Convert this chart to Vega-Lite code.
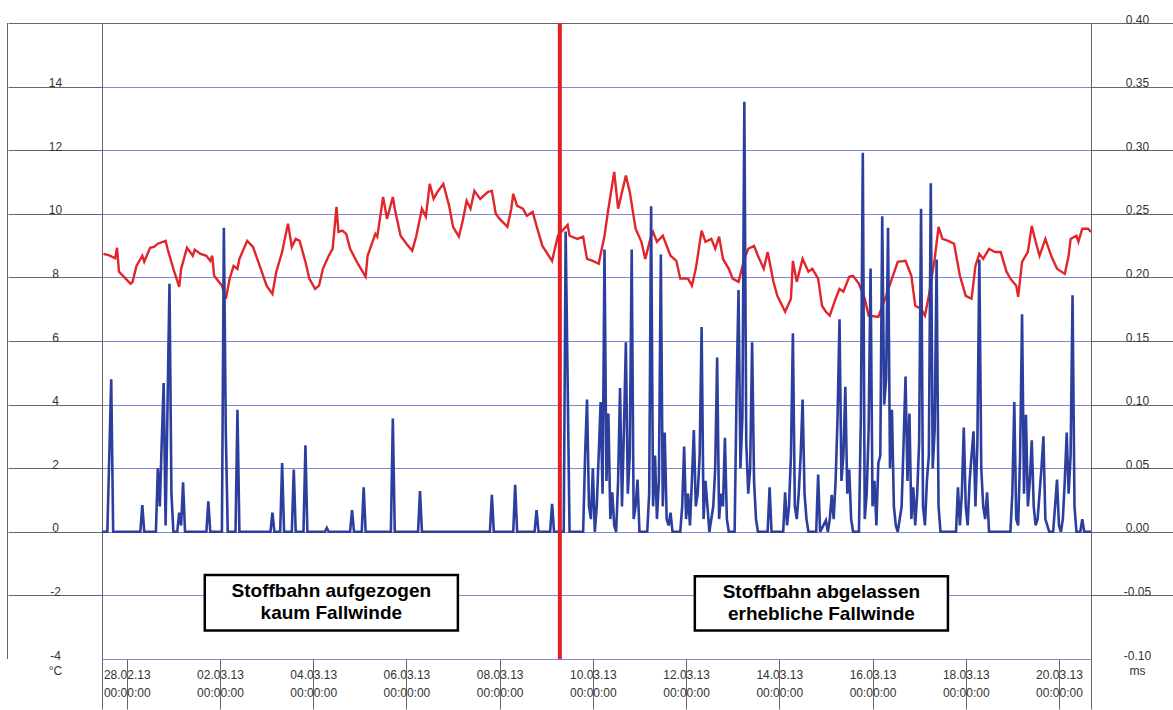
{
  "$schema": "https://vega.github.io/schema/vega-lite/v6.json",
  "width": 989,
  "height": 636,
  "autosize": "none",
  "padding": {"left": 102, "top": 23, "right": 82, "bottom": 51},
  "background": "white",
  "config": {
    "font": "Liberation Sans",
    "view": {"stroke": null},
    "axis": {"labelFont": "Liberation Sans", "titleFont": "Liberation Sans"}
  },
  "datasets": {
    "temperatur": [
      {"zeit": "2013-02-27T12:00Z", "temp": 8.74}, {"zeit": "2013-02-27T15:00Z", "temp": 8.69}, {"zeit": "2013-02-27T18:00Z", "temp": 8.6}, {"zeit": "2013-02-27T19:00Z", "temp": 8.93}, {"zeit": "2013-02-27T20:00Z", "temp": 8.18},
      {"zeit": "2013-02-28T02:00Z", "temp": 7.8}, {"zeit": "2013-02-28T03:00Z", "temp": 7.86}, {"zeit": "2013-02-28T05:00Z", "temp": 8.36}, {"zeit": "2013-02-28T08:00Z", "temp": 8.68}, {"zeit": "2013-02-28T09:00Z", "temp": 8.49}, {"zeit": "2013-02-28T12:00Z", "temp": 8.93}, {"zeit": "2013-02-28T14:00Z", "temp": 8.96}, {"zeit": "2013-02-28T16:00Z", "temp": 9.06}, {"zeit": "2013-02-28T20:00Z", "temp": 9.15}, {"zeit": "2013-02-28T21:00Z", "temp": 8.9},
      {"zeit": "2013-03-01T00:00Z", "temp": 8.27}, {"zeit": "2013-03-01T03:00Z", "temp": 7.7}, {"zeit": "2013-03-01T04:00Z", "temp": 8.27}, {"zeit": "2013-03-01T07:00Z", "temp": 8.93}, {"zeit": "2013-03-01T10:00Z", "temp": 8.68}, {"zeit": "2013-03-01T11:00Z", "temp": 8.87}, {"zeit": "2013-03-01T14:00Z", "temp": 8.74}, {"zeit": "2013-03-01T17:00Z", "temp": 8.68}, {"zeit": "2013-03-01T19:00Z", "temp": 8.52}, {"zeit": "2013-03-01T20:00Z", "temp": 8.68}, {"zeit": "2013-03-01T21:00Z", "temp": 8.05},
      {"zeit": "2013-03-02T01:00Z", "temp": 7.74}, {"zeit": "2013-03-02T03:00Z", "temp": 7.33}, {"zeit": "2013-03-02T05:00Z", "temp": 7.96}, {"zeit": "2013-03-02T07:00Z", "temp": 8.36}, {"zeit": "2013-03-02T09:00Z", "temp": 8.27}, {"zeit": "2013-03-02T10:00Z", "temp": 8.58}, {"zeit": "2013-03-02T14:00Z", "temp": 9.15}, {"zeit": "2013-03-02T17:00Z", "temp": 8.96}, {"zeit": "2013-03-02T21:00Z", "temp": 8.27},
      {"zeit": "2013-03-03T00:00Z", "temp": 7.74}, {"zeit": "2013-03-03T03:00Z", "temp": 7.48}, {"zeit": "2013-03-03T05:00Z", "temp": 8.18}, {"zeit": "2013-03-03T08:00Z", "temp": 8.8}, {"zeit": "2013-03-03T11:00Z", "temp": 9.69}, {"zeit": "2013-03-03T13:00Z", "temp": 8.96}, {"zeit": "2013-03-03T15:00Z", "temp": 9.21}, {"zeit": "2013-03-03T17:00Z", "temp": 9.15}, {"zeit": "2013-03-03T20:00Z", "temp": 8.49}, {"zeit": "2013-03-03T22:00Z", "temp": 7.96},
      {"zeit": "2013-03-04T01:00Z", "temp": 7.64}, {"zeit": "2013-03-04T03:00Z", "temp": 7.74}, {"zeit": "2013-03-04T05:00Z", "temp": 8.27}, {"zeit": "2013-03-04T08:00Z", "temp": 8.68}, {"zeit": "2013-03-04T10:00Z", "temp": 8.9}, {"zeit": "2013-03-04T12:00Z", "temp": 10.22}, {"zeit": "2013-03-04T13:00Z", "temp": 9.43}, {"zeit": "2013-03-04T15:00Z", "temp": 9.47}, {"zeit": "2013-03-04T17:00Z", "temp": 9.37}, {"zeit": "2013-03-04T19:00Z", "temp": 8.9}, {"zeit": "2013-03-04T23:00Z", "temp": 8.43},
      {"zeit": "2013-03-05T03:00Z", "temp": 8.02}, {"zeit": "2013-03-05T04:00Z", "temp": 8.68}, {"zeit": "2013-03-05T08:00Z", "temp": 9.37}, {"zeit": "2013-03-05T09:00Z", "temp": 9.28}, {"zeit": "2013-03-05T12:00Z", "temp": 10.53}, {"zeit": "2013-03-05T14:00Z", "temp": 9.84}, {"zeit": "2013-03-05T17:00Z", "temp": 10.53}, {"zeit": "2013-03-05T18:00Z", "temp": 10.16}, {"zeit": "2013-03-05T21:00Z", "temp": 9.31},
      {"zeit": "2013-03-06T00:00Z", "temp": 9.06}, {"zeit": "2013-03-06T03:00Z", "temp": 8.84}, {"zeit": "2013-03-06T05:00Z", "temp": 9.28}, {"zeit": "2013-03-06T08:00Z", "temp": 10.16}, {"zeit": "2013-03-06T10:00Z", "temp": 9.91}, {"zeit": "2013-03-06T12:00Z", "temp": 10.94}, {"zeit": "2013-03-06T14:00Z", "temp": 10.47}, {"zeit": "2013-03-06T16:00Z", "temp": 10.69}, {"zeit": "2013-03-06T19:00Z", "temp": 10.94}, {"zeit": "2013-03-06T22:00Z", "temp": 10.25},
      {"zeit": "2013-03-07T00:00Z", "temp": 9.59}, {"zeit": "2013-03-07T03:00Z", "temp": 9.28}, {"zeit": "2013-03-07T05:00Z", "temp": 9.78}, {"zeit": "2013-03-07T07:00Z", "temp": 10.41}, {"zeit": "2013-03-07T09:00Z", "temp": 10.16}, {"zeit": "2013-03-07T11:00Z", "temp": 10.72}, {"zeit": "2013-03-07T14:00Z", "temp": 10.47}, {"zeit": "2013-03-07T18:00Z", "temp": 10.69}, {"zeit": "2013-03-07T20:00Z", "temp": 10.72}, {"zeit": "2013-03-07T22:00Z", "temp": 10.0},
      {"zeit": "2013-03-08T00:00Z", "temp": 9.84}, {"zeit": "2013-03-08T04:00Z", "temp": 9.59}, {"zeit": "2013-03-08T06:00Z", "temp": 10.16}, {"zeit": "2013-03-08T07:00Z", "temp": 10.63}, {"zeit": "2013-03-08T09:00Z", "temp": 10.25}, {"zeit": "2013-03-08T12:00Z", "temp": 10.16}, {"zeit": "2013-03-08T14:00Z", "temp": 9.94}, {"zeit": "2013-03-08T17:00Z", "temp": 10.06}, {"zeit": "2013-03-08T19:00Z", "temp": 9.62}, {"zeit": "2013-03-08T22:00Z", "temp": 8.99},
      {"zeit": "2013-03-09T03:00Z", "temp": 8.52}, {"zeit": "2013-03-09T06:00Z", "temp": 9.31}, {"zeit": "2013-03-09T08:00Z", "temp": 9.45}, {"zeit": "2013-03-09T11:00Z", "temp": 9.65}, {"zeit": "2013-03-09T12:00Z", "temp": 9.31}, {"zeit": "2013-03-09T16:00Z", "temp": 9.21}, {"zeit": "2013-03-09T19:00Z", "temp": 9.28}, {"zeit": "2013-03-09T21:00Z", "temp": 8.58},
      {"zeit": "2013-03-10T00:00Z", "temp": 8.52}, {"zeit": "2013-03-10T03:00Z", "temp": 8.43}, {"zeit": "2013-03-10T06:00Z", "temp": 9.31}, {"zeit": "2013-03-10T08:00Z", "temp": 10.16}, {"zeit": "2013-03-10T11:00Z", "temp": 11.32}, {"zeit": "2013-03-10T13:00Z", "temp": 10.16}, {"zeit": "2013-03-10T17:00Z", "temp": 11.2}, {"zeit": "2013-03-10T19:00Z", "temp": 10.69}, {"zeit": "2013-03-10T22:00Z", "temp": 9.53},
      {"zeit": "2013-03-11T01:00Z", "temp": 9.12}, {"zeit": "2013-03-11T03:00Z", "temp": 8.58}, {"zeit": "2013-03-11T06:00Z", "temp": 9.31}, {"zeit": "2013-03-11T07:00Z", "temp": 9.43}, {"zeit": "2013-03-11T09:00Z", "temp": 9.12}, {"zeit": "2013-03-11T12:00Z", "temp": 9.31}, {"zeit": "2013-03-11T16:00Z", "temp": 8.68}, {"zeit": "2013-03-11T19:00Z", "temp": 8.52}, {"zeit": "2013-03-11T21:00Z", "temp": 7.96},
      {"zeit": "2013-03-12T01:00Z", "temp": 7.96}, {"zeit": "2013-03-12T03:00Z", "temp": 7.74}, {"zeit": "2013-03-12T05:00Z", "temp": 8.27}, {"zeit": "2013-03-12T08:00Z", "temp": 9.47}, {"zeit": "2013-03-12T10:00Z", "temp": 9.12}, {"zeit": "2013-03-12T13:00Z", "temp": 9.21}, {"zeit": "2013-03-12T15:00Z", "temp": 8.9}, {"zeit": "2013-03-12T17:00Z", "temp": 9.28}, {"zeit": "2013-03-12T19:00Z", "temp": 8.58}, {"zeit": "2013-03-12T22:00Z", "temp": 8.27},
      {"zeit": "2013-03-13T00:00Z", "temp": 7.96}, {"zeit": "2013-03-13T03:00Z", "temp": 7.86}, {"zeit": "2013-03-13T06:00Z", "temp": 8.58}, {"zeit": "2013-03-13T08:00Z", "temp": 8.9}, {"zeit": "2013-03-13T11:00Z", "temp": 8.99}, {"zeit": "2013-03-13T13:00Z", "temp": 8.68}, {"zeit": "2013-03-13T16:00Z", "temp": 8.27}, {"zeit": "2013-03-13T18:00Z", "temp": 8.8}, {"zeit": "2013-03-13T21:00Z", "temp": 7.86}, {"zeit": "2013-03-13T23:00Z", "temp": 7.42},
      {"zeit": "2013-03-14T03:00Z", "temp": 6.92}, {"zeit": "2013-03-14T06:00Z", "temp": 7.33}, {"zeit": "2013-03-14T07:00Z", "temp": 8.52}, {"zeit": "2013-03-14T09:00Z", "temp": 7.86}, {"zeit": "2013-03-14T12:00Z", "temp": 8.58}, {"zeit": "2013-03-14T15:00Z", "temp": 8.18}, {"zeit": "2013-03-14T17:00Z", "temp": 8.27}, {"zeit": "2013-03-14T20:00Z", "temp": 7.96}, {"zeit": "2013-03-14T22:00Z", "temp": 7.11},
      {"zeit": "2013-03-15T00:00Z", "temp": 6.92}, {"zeit": "2013-03-15T02:00Z", "temp": 6.8}, {"zeit": "2013-03-15T05:00Z", "temp": 7.33}, {"zeit": "2013-03-15T07:00Z", "temp": 7.64}, {"zeit": "2013-03-15T09:00Z", "temp": 7.55}, {"zeit": "2013-03-15T12:00Z", "temp": 8.02}, {"zeit": "2013-03-15T14:00Z", "temp": 8.05}, {"zeit": "2013-03-15T17:00Z", "temp": 7.8}, {"zeit": "2013-03-15T20:00Z", "temp": 7.33}, {"zeit": "2013-03-15T22:00Z", "temp": 6.8},
      {"zeit": "2013-03-16T03:00Z", "temp": 6.76}, {"zeit": "2013-03-16T07:00Z", "temp": 7.42}, {"zeit": "2013-03-16T10:00Z", "temp": 7.96}, {"zeit": "2013-03-16T13:00Z", "temp": 8.49}, {"zeit": "2013-03-16T17:00Z", "temp": 8.52}, {"zeit": "2013-03-16T20:00Z", "temp": 8.05}, {"zeit": "2013-03-16T22:00Z", "temp": 7.11},
      {"zeit": "2013-03-17T01:00Z", "temp": 7.01}, {"zeit": "2013-03-17T03:00Z", "temp": 6.8}, {"zeit": "2013-03-17T05:00Z", "temp": 7.42}, {"zeit": "2013-03-17T08:00Z", "temp": 8.58}, {"zeit": "2013-03-17T10:00Z", "temp": 9.59}, {"zeit": "2013-03-17T12:00Z", "temp": 9.21}, {"zeit": "2013-03-17T15:00Z", "temp": 9.15}, {"zeit": "2013-03-17T18:00Z", "temp": 9.06}, {"zeit": "2013-03-17T21:00Z", "temp": 8.05},
      {"zeit": "2013-03-18T00:00Z", "temp": 7.42}, {"zeit": "2013-03-18T03:00Z", "temp": 7.33}, {"zeit": "2013-03-18T05:00Z", "temp": 8.36}, {"zeit": "2013-03-18T07:00Z", "temp": 8.74}, {"zeit": "2013-03-18T09:00Z", "temp": 8.58}, {"zeit": "2013-03-18T12:00Z", "temp": 8.9}, {"zeit": "2013-03-18T15:00Z", "temp": 8.8}, {"zeit": "2013-03-18T18:00Z", "temp": 8.8}, {"zeit": "2013-03-18T21:00Z", "temp": 8.18}, {"zeit": "2013-03-18T23:00Z", "temp": 7.96},
      {"zeit": "2013-03-19T02:00Z", "temp": 7.74}, {"zeit": "2013-03-19T03:00Z", "temp": 7.39}, {"zeit": "2013-03-19T05:00Z", "temp": 8.49}, {"zeit": "2013-03-19T08:00Z", "temp": 8.8}, {"zeit": "2013-03-19T10:00Z", "temp": 9.62}, {"zeit": "2013-03-19T12:00Z", "temp": 9.12}, {"zeit": "2013-03-19T14:00Z", "temp": 8.68}, {"zeit": "2013-03-19T17:00Z", "temp": 9.21}, {"zeit": "2013-03-19T20:00Z", "temp": 8.68}, {"zeit": "2013-03-19T23:00Z", "temp": 8.27},
      {"zeit": "2013-03-20T03:00Z", "temp": 8.11}, {"zeit": "2013-03-20T05:00Z", "temp": 8.68}, {"zeit": "2013-03-20T06:00Z", "temp": 9.21}, {"zeit": "2013-03-20T09:00Z", "temp": 9.31}, {"zeit": "2013-03-20T10:00Z", "temp": 9.12}, {"zeit": "2013-03-20T12:00Z", "temp": 9.53}, {"zeit": "2013-03-20T15:00Z", "temp": 9.53}, {"zeit": "2013-03-20T16:30Z", "temp": 9.43}
    ],
    "wind": [
      {"zeit": "2013-02-27T11:15Z", "wind": 0}, {"zeit": "2013-02-27T14:00Z", "wind": 0}, {"zeit": "2013-02-27T15:00Z", "wind": 0.06}, {"zeit": "2013-02-27T16:00Z", "wind": 0.12}, {"zeit": "2013-02-27T17:00Z", "wind": 0},
      {"zeit": "2013-02-28T07:00Z", "wind": 0}, {"zeit": "2013-02-28T08:00Z", "wind": 0.021}, {"zeit": "2013-02-28T09:00Z", "wind": 0},
      {"zeit": "2013-02-28T15:00Z", "wind": 0}, {"zeit": "2013-02-28T16:00Z", "wind": 0.05}, {"zeit": "2013-02-28T17:00Z", "wind": 0.02}, {"zeit": "2013-02-28T18:00Z", "wind": 0.07}, {"zeit": "2013-02-28T19:00Z", "wind": 0.117}, {"zeit": "2013-02-28T20:00Z", "wind": 0.005}, {"zeit": "2013-02-28T21:00Z", "wind": 0.1}, {"zeit": "2013-02-28T22:00Z", "wind": 0.195}, {"zeit": "2013-02-28T23:00Z", "wind": 0.03},
      {"zeit": "2013-03-01T00:00Z", "wind": 0}, {"zeit": "2013-03-01T02:00Z", "wind": 0}, {"zeit": "2013-03-01T03:00Z", "wind": 0.015}, {"zeit": "2013-03-01T04:00Z", "wind": 0.005}, {"zeit": "2013-03-01T05:00Z", "wind": 0.039}, {"zeit": "2013-03-01T06:00Z", "wind": 0},
      {"zeit": "2013-03-01T17:00Z", "wind": 0}, {"zeit": "2013-03-01T18:00Z", "wind": 0.024}, {"zeit": "2013-03-01T19:00Z", "wind": 0},
      {"zeit": "2013-03-02T01:00Z", "wind": 0}, {"zeit": "2013-03-02T02:00Z", "wind": 0.239}, {"zeit": "2013-03-02T03:00Z", "wind": 0.078}, {"zeit": "2013-03-02T04:00Z", "wind": 0},
      {"zeit": "2013-03-02T08:00Z", "wind": 0}, {"zeit": "2013-03-02T09:00Z", "wind": 0.096}, {"zeit": "2013-03-02T10:00Z", "wind": 0},
      {"zeit": "2013-03-03T02:00Z", "wind": 0}, {"zeit": "2013-03-03T03:00Z", "wind": 0.015}, {"zeit": "2013-03-03T04:00Z", "wind": 0},
      {"zeit": "2013-03-03T07:00Z", "wind": 0}, {"zeit": "2013-03-03T08:00Z", "wind": 0.054}, {"zeit": "2013-03-03T09:00Z", "wind": 0},
      {"zeit": "2013-03-03T13:00Z", "wind": 0}, {"zeit": "2013-03-03T14:00Z", "wind": 0.049}, {"zeit": "2013-03-03T15:00Z", "wind": 0},
      {"zeit": "2013-03-03T19:00Z", "wind": 0}, {"zeit": "2013-03-03T20:00Z", "wind": 0.068}, {"zeit": "2013-03-03T21:00Z", "wind": 0},
      {"zeit": "2013-03-04T06:00Z", "wind": 0}, {"zeit": "2013-03-04T07:00Z", "wind": 0.003}, {"zeit": "2013-03-04T08:00Z", "wind": 0},
      {"zeit": "2013-03-04T19:00Z", "wind": 0}, {"zeit": "2013-03-04T20:00Z", "wind": 0.017}, {"zeit": "2013-03-04T21:00Z", "wind": 0},
      {"zeit": "2013-03-05T01:00Z", "wind": 0}, {"zeit": "2013-03-05T02:00Z", "wind": 0.035}, {"zeit": "2013-03-05T03:00Z", "wind": 0},
      {"zeit": "2013-03-05T16:00Z", "wind": 0}, {"zeit": "2013-03-05T17:00Z", "wind": 0.089}, {"zeit": "2013-03-05T18:00Z", "wind": 0},
      {"zeit": "2013-03-06T06:00Z", "wind": 0}, {"zeit": "2013-03-06T07:00Z", "wind": 0.032}, {"zeit": "2013-03-06T08:00Z", "wind": 0},
      {"zeit": "2013-03-07T19:00Z", "wind": 0}, {"zeit": "2013-03-07T20:00Z", "wind": 0.029}, {"zeit": "2013-03-07T21:00Z", "wind": 0},
      {"zeit": "2013-03-08T07:00Z", "wind": 0}, {"zeit": "2013-03-08T08:00Z", "wind": 0.037}, {"zeit": "2013-03-08T09:00Z", "wind": 0},
      {"zeit": "2013-03-08T18:00Z", "wind": 0}, {"zeit": "2013-03-08T19:00Z", "wind": 0.017}, {"zeit": "2013-03-08T20:00Z", "wind": 0},
      {"zeit": "2013-03-09T02:00Z", "wind": 0}, {"zeit": "2013-03-09T03:00Z", "wind": 0.022}, {"zeit": "2013-03-09T04:00Z", "wind": 0},
      {"zeit": "2013-03-09T09:00Z", "wind": 0}, {"zeit": "2013-03-09T10:00Z", "wind": 0.236}, {"zeit": "2013-03-09T11:00Z", "wind": 0.12}, {"zeit": "2013-03-09T12:00Z", "wind": 0},
      {"zeit": "2013-03-09T19:00Z", "wind": 0}, {"zeit": "2013-03-09T20:00Z", "wind": 0.06}, {"zeit": "2013-03-09T21:00Z", "wind": 0.104}, {"zeit": "2013-03-09T22:00Z", "wind": 0.02}, {"zeit": "2013-03-09T23:00Z", "wind": 0.01},
      {"zeit": "2013-03-10T00:00Z", "wind": 0.05}, {"zeit": "2013-03-10T01:00Z", "wind": 0}, {"zeit": "2013-03-10T02:00Z", "wind": 0.02}, {"zeit": "2013-03-10T03:00Z", "wind": 0.06}, {"zeit": "2013-03-10T04:00Z", "wind": 0.102}, {"zeit": "2013-03-10T05:00Z", "wind": 0.03}, {"zeit": "2013-03-10T06:00Z", "wind": 0.222}, {"zeit": "2013-03-10T07:00Z", "wind": 0.04}, {"zeit": "2013-03-10T08:00Z", "wind": 0.093}, {"zeit": "2013-03-10T09:00Z", "wind": 0.01}, {"zeit": "2013-03-10T10:00Z", "wind": 0.031}, {"zeit": "2013-03-10T11:00Z", "wind": 0.005}, {"zeit": "2013-03-10T12:00Z", "wind": 0}, {"zeit": "2013-03-10T13:00Z", "wind": 0.04}, {"zeit": "2013-03-10T14:00Z", "wind": 0.113}, {"zeit": "2013-03-10T15:00Z", "wind": 0.02}, {"zeit": "2013-03-10T16:00Z", "wind": 0.08}, {"zeit": "2013-03-10T17:00Z", "wind": 0.149}, {"zeit": "2013-03-10T18:00Z", "wind": 0.03}, {"zeit": "2013-03-10T19:00Z", "wind": 0.06}, {"zeit": "2013-03-10T20:00Z", "wind": 0.222}, {"zeit": "2013-03-10T21:00Z", "wind": 0.01}, {"zeit": "2013-03-10T22:00Z", "wind": 0.02}, {"zeit": "2013-03-10T23:00Z", "wind": 0.041},
      {"zeit": "2013-03-11T00:00Z", "wind": 0}, {"zeit": "2013-03-11T04:00Z", "wind": 0}, {"zeit": "2013-03-11T05:00Z", "wind": 0.03}, {"zeit": "2013-03-11T06:00Z", "wind": 0.256}, {"zeit": "2013-03-11T07:00Z", "wind": 0.02}, {"zeit": "2013-03-11T08:00Z", "wind": 0.06}, {"zeit": "2013-03-11T09:00Z", "wind": 0.01}, {"zeit": "2013-03-11T10:00Z", "wind": 0.04}, {"zeit": "2013-03-11T11:00Z", "wind": 0.218}, {"zeit": "2013-03-11T12:00Z", "wind": 0.02}, {"zeit": "2013-03-11T13:00Z", "wind": 0.078}, {"zeit": "2013-03-11T14:00Z", "wind": 0.01}, {"zeit": "2013-03-11T15:00Z", "wind": 0.005}, {"zeit": "2013-03-11T16:00Z", "wind": 0.015}, {"zeit": "2013-03-11T17:00Z", "wind": 0},
      {"zeit": "2013-03-11T21:00Z", "wind": 0}, {"zeit": "2013-03-11T22:00Z", "wind": 0.02}, {"zeit": "2013-03-11T23:00Z", "wind": 0.067},
      {"zeit": "2013-03-12T00:00Z", "wind": 0.01}, {"zeit": "2013-03-12T01:00Z", "wind": 0.03}, {"zeit": "2013-03-12T02:00Z", "wind": 0.005}, {"zeit": "2013-03-12T03:00Z", "wind": 0.04}, {"zeit": "2013-03-12T04:00Z", "wind": 0.08}, {"zeit": "2013-03-12T05:00Z", "wind": 0.02}, {"zeit": "2013-03-12T06:00Z", "wind": 0.03}, {"zeit": "2013-03-12T07:00Z", "wind": 0.06}, {"zeit": "2013-03-12T08:00Z", "wind": 0.161}, {"zeit": "2013-03-12T09:00Z", "wind": 0.01}, {"zeit": "2013-03-12T10:00Z", "wind": 0.04}, {"zeit": "2013-03-12T11:00Z", "wind": 0.02}, {"zeit": "2013-03-12T12:00Z", "wind": 0}, {"zeit": "2013-03-12T14:00Z", "wind": 0.02}, {"zeit": "2013-03-12T15:00Z", "wind": 0.05}, {"zeit": "2013-03-12T16:00Z", "wind": 0.137}, {"zeit": "2013-03-12T17:00Z", "wind": 0.01}, {"zeit": "2013-03-12T18:00Z", "wind": 0.03}, {"zeit": "2013-03-12T19:00Z", "wind": 0.02}, {"zeit": "2013-03-12T20:00Z", "wind": 0.074}, {"zeit": "2013-03-12T21:00Z", "wind": 0.01}, {"zeit": "2013-03-12T22:00Z", "wind": 0},
      {"zeit": "2013-03-13T01:00Z", "wind": 0}, {"zeit": "2013-03-13T02:00Z", "wind": 0.11}, {"zeit": "2013-03-13T03:00Z", "wind": 0.19}, {"zeit": "2013-03-13T04:00Z", "wind": 0.05}, {"zeit": "2013-03-13T05:00Z", "wind": 0.09}, {"zeit": "2013-03-13T06:00Z", "wind": 0.338}, {"zeit": "2013-03-13T07:00Z", "wind": 0.07}, {"zeit": "2013-03-13T08:00Z", "wind": 0.03}, {"zeit": "2013-03-13T09:00Z", "wind": 0.05}, {"zeit": "2013-03-13T10:00Z", "wind": 0.149}, {"zeit": "2013-03-13T11:00Z", "wind": 0.04}, {"zeit": "2013-03-13T12:00Z", "wind": 0.01}, {"zeit": "2013-03-13T13:00Z", "wind": 0},
      {"zeit": "2013-03-13T18:00Z", "wind": 0}, {"zeit": "2013-03-13T19:00Z", "wind": 0.035}, {"zeit": "2013-03-13T20:00Z", "wind": 0},
      {"zeit": "2013-03-14T02:00Z", "wind": 0}, {"zeit": "2013-03-14T03:00Z", "wind": 0.031}, {"zeit": "2013-03-14T04:00Z", "wind": 0.005}, {"zeit": "2013-03-14T05:00Z", "wind": 0.02}, {"zeit": "2013-03-14T06:00Z", "wind": 0.06}, {"zeit": "2013-03-14T07:00Z", "wind": 0.156}, {"zeit": "2013-03-14T08:00Z", "wind": 0.02}, {"zeit": "2013-03-14T09:00Z", "wind": 0.01}, {"zeit": "2013-03-14T10:00Z", "wind": 0.03}, {"zeit": "2013-03-14T11:00Z", "wind": 0.06}, {"zeit": "2013-03-14T12:00Z", "wind": 0.104}, {"zeit": "2013-03-14T13:00Z", "wind": 0.03}, {"zeit": "2013-03-14T14:00Z", "wind": 0.01}, {"zeit": "2013-03-14T15:00Z", "wind": 0},
      {"zeit": "2013-03-14T19:00Z", "wind": 0}, {"zeit": "2013-03-14T20:00Z", "wind": 0.045}, {"zeit": "2013-03-14T21:00Z", "wind": 0},
      {"zeit": "2013-03-15T00:00Z", "wind": 0.009}, {"zeit": "2013-03-15T01:00Z", "wind": 0}, {"zeit": "2013-03-15T02:00Z", "wind": 0.01}, {"zeit": "2013-03-15T03:00Z", "wind": 0.029}, {"zeit": "2013-03-15T04:00Z", "wind": 0.01}, {"zeit": "2013-03-15T05:00Z", "wind": 0.04}, {"zeit": "2013-03-15T06:00Z", "wind": 0.09}, {"zeit": "2013-03-15T07:00Z", "wind": 0.167}, {"zeit": "2013-03-15T08:00Z", "wind": 0.04}, {"zeit": "2013-03-15T09:00Z", "wind": 0.06}, {"zeit": "2013-03-15T10:00Z", "wind": 0.114}, {"zeit": "2013-03-15T11:00Z", "wind": 0.03}, {"zeit": "2013-03-15T12:00Z", "wind": 0.049}, {"zeit": "2013-03-15T13:00Z", "wind": 0.01}, {"zeit": "2013-03-15T14:00Z", "wind": 0},
      {"zeit": "2013-03-15T17:00Z", "wind": 0}, {"zeit": "2013-03-15T18:00Z", "wind": 0.09}, {"zeit": "2013-03-15T19:00Z", "wind": 0.298}, {"zeit": "2013-03-15T20:00Z", "wind": 0.01}, {"zeit": "2013-03-15T21:00Z", "wind": 0.03}, {"zeit": "2013-03-15T22:00Z", "wind": 0.08}, {"zeit": "2013-03-15T23:00Z", "wind": 0.207},
      {"zeit": "2013-03-16T00:00Z", "wind": 0.02}, {"zeit": "2013-03-16T01:00Z", "wind": 0.04}, {"zeit": "2013-03-16T02:00Z", "wind": 0.005}, {"zeit": "2013-03-16T03:00Z", "wind": 0.054}, {"zeit": "2013-03-16T04:00Z", "wind": 0.06}, {"zeit": "2013-03-16T05:00Z", "wind": 0.248}, {"zeit": "2013-03-16T06:00Z", "wind": 0.1}, {"zeit": "2013-03-16T07:00Z", "wind": 0.12}, {"zeit": "2013-03-16T08:00Z", "wind": 0.239}, {"zeit": "2013-03-16T09:00Z", "wind": 0.05}, {"zeit": "2013-03-16T10:00Z", "wind": 0.096}, {"zeit": "2013-03-16T11:00Z", "wind": 0.02}, {"zeit": "2013-03-16T12:00Z", "wind": 0.005}, {"zeit": "2013-03-16T13:00Z", "wind": 0}, {"zeit": "2013-03-16T15:00Z", "wind": 0.02}, {"zeit": "2013-03-16T16:00Z", "wind": 0.07}, {"zeit": "2013-03-16T17:00Z", "wind": 0.122}, {"zeit": "2013-03-16T18:00Z", "wind": 0.04}, {"zeit": "2013-03-16T19:00Z", "wind": 0.093}, {"zeit": "2013-03-16T20:00Z", "wind": 0.01}, {"zeit": "2013-03-16T21:00Z", "wind": 0.035}, {"zeit": "2013-03-16T22:00Z", "wind": 0.005}, {"zeit": "2013-03-16T23:00Z", "wind": 0.03},
      {"zeit": "2013-03-17T00:00Z", "wind": 0.07}, {"zeit": "2013-03-17T01:00Z", "wind": 0.254}, {"zeit": "2013-03-17T02:00Z", "wind": 0.02}, {"zeit": "2013-03-17T03:00Z", "wind": 0.005}, {"zeit": "2013-03-17T04:00Z", "wind": 0.04}, {"zeit": "2013-03-17T05:00Z", "wind": 0.06}, {"zeit": "2013-03-17T06:00Z", "wind": 0.274}, {"zeit": "2013-03-17T07:00Z", "wind": 0.05}, {"zeit": "2013-03-17T08:00Z", "wind": 0.08}, {"zeit": "2013-03-17T09:00Z", "wind": 0.214}, {"zeit": "2013-03-17T10:00Z", "wind": 0.02}, {"zeit": "2013-03-17T11:00Z", "wind": 0},
      {"zeit": "2013-03-17T19:00Z", "wind": 0}, {"zeit": "2013-03-17T20:00Z", "wind": 0.035}, {"zeit": "2013-03-17T21:00Z", "wind": 0.005}, {"zeit": "2013-03-17T22:00Z", "wind": 0.03}, {"zeit": "2013-03-17T23:00Z", "wind": 0.082},
      {"zeit": "2013-03-18T00:00Z", "wind": 0.02}, {"zeit": "2013-03-18T01:00Z", "wind": 0.005}, {"zeit": "2013-03-18T02:00Z", "wind": 0.04}, {"zeit": "2013-03-18T03:00Z", "wind": 0.06}, {"zeit": "2013-03-18T04:00Z", "wind": 0.079}, {"zeit": "2013-03-18T05:00Z", "wind": 0.02}, {"zeit": "2013-03-18T06:00Z", "wind": 0.07}, {"zeit": "2013-03-18T07:00Z", "wind": 0.214}, {"zeit": "2013-03-18T08:00Z", "wind": 0.05}, {"zeit": "2013-03-18T09:00Z", "wind": 0.02}, {"zeit": "2013-03-18T10:00Z", "wind": 0.01}, {"zeit": "2013-03-18T11:00Z", "wind": 0.031}, {"zeit": "2013-03-18T12:00Z", "wind": 0},
      {"zeit": "2013-03-18T23:00Z", "wind": 0}, {"zeit": "2013-03-19T00:00Z", "wind": 0.03}, {"zeit": "2013-03-19T01:00Z", "wind": 0.102}, {"zeit": "2013-03-19T02:00Z", "wind": 0.01}, {"zeit": "2013-03-19T03:00Z", "wind": 0.005}, {"zeit": "2013-03-19T04:00Z", "wind": 0.06}, {"zeit": "2013-03-19T05:00Z", "wind": 0.171}, {"zeit": "2013-03-19T06:00Z", "wind": 0.03}, {"zeit": "2013-03-19T07:00Z", "wind": 0.092}, {"zeit": "2013-03-19T08:00Z", "wind": 0.02}, {"zeit": "2013-03-19T09:00Z", "wind": 0.04}, {"zeit": "2013-03-19T10:00Z", "wind": 0.072}, {"zeit": "2013-03-19T11:00Z", "wind": 0.02}, {"zeit": "2013-03-19T12:00Z", "wind": 0.005}, {"zeit": "2013-03-19T13:00Z", "wind": 0.01}, {"zeit": "2013-03-19T14:00Z", "wind": 0.03}, {"zeit": "2013-03-19T15:00Z", "wind": 0.05}, {"zeit": "2013-03-19T16:00Z", "wind": 0.075}, {"zeit": "2013-03-19T17:00Z", "wind": 0.01}, {"zeit": "2013-03-19T18:00Z", "wind": 0.005}, {"zeit": "2013-03-19T19:00Z", "wind": 0},
      {"zeit": "2013-03-19T21:00Z", "wind": 0}, {"zeit": "2013-03-19T22:00Z", "wind": 0.02}, {"zeit": "2013-03-19T23:00Z", "wind": 0.041}, {"zeit": "2013-03-20T00:00Z", "wind": 0.005}, {"zeit": "2013-03-20T01:00Z", "wind": 0}, {"zeit": "2013-03-20T02:00Z", "wind": 0.01}, {"zeit": "2013-03-20T03:00Z", "wind": 0.04}, {"zeit": "2013-03-20T04:00Z", "wind": 0.078}, {"zeit": "2013-03-20T05:00Z", "wind": 0.03}, {"zeit": "2013-03-20T06:00Z", "wind": 0.06}, {"zeit": "2013-03-20T07:00Z", "wind": 0.186}, {"zeit": "2013-03-20T08:00Z", "wind": 0.02}, {"zeit": "2013-03-20T09:00Z", "wind": 0},
      {"zeit": "2013-03-20T11:00Z", "wind": 0}, {"zeit": "2013-03-20T12:00Z", "wind": 0.01}, {"zeit": "2013-03-20T13:00Z", "wind": 0}, {"zeit": "2013-03-20T16:30Z", "wind": 0}
    ]
  },
  "layer": [
    {
      "layer": [
        {
          "data": {"name": "temperatur"},
          "mark": {"type": "line", "color": "#e0262b", "strokeWidth": 2.4, "clip": true},
          "encoding": {
            "x": {
              "field": "zeit", "type": "temporal",
              "scale": {"type": "utc", "domain": [{"year": 2013, "month": 2, "date": 27, "hours": 11, "minutes": 15, "utc": true}, {"year": 2013, "month": 3, "date": 20, "hours": 16, "minutes": 30, "utc": true}]},
              "axis": {
                "orient": "bottom",
                "values": [
                  {"year": 2013, "month": 2, "date": 27, "hours": 11, "minutes": 15, "utc": true},
                  {"year": 2013, "month": 2, "date": 28, "utc": true},
                  {"year": 2013, "month": 3, "date": 2, "utc": true},
                  {"year": 2013, "month": 3, "date": 4, "utc": true},
                  {"year": 2013, "month": 3, "date": 6, "utc": true},
                  {"year": 2013, "month": 3, "date": 8, "utc": true},
                  {"year": 2013, "month": 3, "date": 10, "utc": true},
                  {"year": 2013, "month": 3, "date": 12, "utc": true},
                  {"year": 2013, "month": 3, "date": 14, "utc": true},
                  {"year": 2013, "month": 3, "date": 16, "utc": true},
                  {"year": 2013, "month": 3, "date": 18, "utc": true},
                  {"year": 2013, "month": 3, "date": 20, "utc": true},
                  {"year": 2013, "month": 3, "date": 20, "hours": 16, "minutes": 30, "utc": true}
                ],
                "labelExpr": "utchours(datum.value) == 0 && utcminutes(datum.value) == 0 ? [utcFormat(datum.value, '%d.%m.%y'), '00:00:00'] : ''",
                "title": null,
                "grid": false,
                "domain": false,
                "tickSize": 50,
                "tickColor": "#666",
                "tickWidth": 1,
                "labelPadding": -40,
                "labelAlign": "center",
                "labelBaseline": "top",
                "labelFontSize": 12,
                "labelLineHeight": 18,
                "labelColor": "#333",
                "labelOverlap": false,
                "labelFlush": false,
                "labelBound": false
              }
            },
            "y": {
              "field": "temp", "type": "quantitative",
              "scale": {"domain": [-4, 16], "nice": false, "zero": false},
              "axis": {
                "orient": "left",
                "values": [-4, -2, 0, 2, 4, 6, 8, 10, 12, 14, 16],
                "labelExpr": "datum.value == 16 ? '' : replace(datum.label, '\u2212', '-')",
                "grid": true,
                "gridColor": {"condition": {"test": "datum.value == 16", "value": "#666"}, "value": "#8585d8"},
                "gridWidth": 1,
                "domain": true,
                "domainColor": "#666",
                "tickSize": 94,
                "tickColor": "#666",
                "tickOpacity": {"condition": {"test": "datum.value == -4", "value": 0}, "value": 1},
                "labelAlign": "center",
                "labelBaseline": "alphabetic",
                "labelPadding": -47,
                "labelOffset": 0,
                "labelFontSize": 12,
                "labelColor": "#333",
                "title": "°C",
                "titleAngle": 0,
                "titleX": -47,
                "titleY": 642,
                "titleAlign": "center",
                "titleBaseline": "top",
                "titleFontSize": 12,
                "titleFontWeight": "normal",
                "titleColor": "#333"
              }
            }
          }
        },
        {
          "data": {"values": [{}]},
          "mark": {"type": "rect", "fill": "white", "stroke": "black", "strokeWidth": 2.5},
          "encoding": {
            "x": {"datum": {"year": 2013, "month": 3, "date": 1, "hours": 16, "minutes": 10, "utc": true}, "type": "temporal"},
            "x2": {"datum": {"year": 2013, "month": 3, "date": 7, "hours": 2, "minutes": 30, "utc": true}},
            "y": {"datum": -1.36, "type": "quantitative"},
            "y2": {"datum": -3.1}
          }
        },
        {
          "data": {"values": [{}]},
          "mark": {"type": "rect", "fill": "white", "stroke": "black", "strokeWidth": 2.5},
          "encoding": {
            "x": {"datum": {"year": 2013, "month": 3, "date": 12, "hours": 4, "minutes": 30, "utc": true}, "type": "temporal"},
            "x2": {"datum": {"year": 2013, "month": 3, "date": 17, "hours": 14, "minutes": 50, "utc": true}},
            "y": {"datum": -1.4, "type": "quantitative"},
            "y2": {"datum": -3.1}
          }
        },
        {
          "data": {"values": [{}]},
          "mark": {"type": "text", "text": ["Stoffbahn aufgezogen", "kaum Fallwinde"], "font": "Liberation Sans", "fontWeight": "bold", "fontSize": 19, "lineHeight": 22, "align": "center", "baseline": "middle", "color": "black"},
          "encoding": {
            "x": {"datum": {"year": 2013, "month": 3, "date": 4, "hours": 9, "minutes": 20, "utc": true}, "type": "temporal"},
            "y": {"datum": -1.86, "type": "quantitative"}
          }
        },
        {
          "data": {"values": [{}]},
          "mark": {"type": "text", "text": ["Stoffbahn abgelassen", "erhebliche Fallwinde"], "font": "Liberation Sans", "fontWeight": "bold", "fontSize": 19, "lineHeight": 22, "align": "center", "baseline": "middle", "color": "black"},
          "encoding": {
            "x": {"datum": {"year": 2013, "month": 3, "date": 14, "hours": 21, "minutes": 40, "utc": true}, "type": "temporal"},
            "y": {"datum": -1.9, "type": "quantitative"}
          }
        }
      ]
    },
    {
      "data": {"name": "wind"},
      "mark": {"type": "line", "color": "#2c3f9e", "strokeWidth": 2.6, "clip": true},
      "encoding": {
        "x": {"field": "zeit", "type": "temporal"},
        "y": {
          "field": "wind", "type": "quantitative",
          "scale": {"domain": [-0.1, 0.4], "nice": false, "zero": false},
          "axis": {
            "orient": "right",
            "values": [-0.1, -0.05, 0, 0.05, 0.1, 0.15, 0.2, 0.25, 0.3, 0.35, 0.4],
            "format": ".2f",
            "labelExpr": "replace(datum.label, '\u2212', '-')",
            "grid": false,
            "domain": true,
            "domainColor": "#666",
            "tickSize": 82,
            "tickColor": "#666",
            "tickOpacity": {"condition": {"test": "datum.value < -0.09", "value": 0}, "value": 1},
            "labelAlign": "center",
            "labelBaseline": "alphabetic",
            "labelPadding": -36,
            "labelFontSize": 12,
            "labelColor": "#333",
            "title": "ms",
            "titleAngle": 0,
            "titleX": 46,
            "titleY": 642,
            "titleAlign": "center",
            "titleBaseline": "top",
            "titleFontSize": 12,
            "titleFontWeight": "normal",
            "titleColor": "#333"
          }
        }
      }
    },
    {
      "data": {"values": [{}]},
      "mark": {"type": "rule", "color": "#e31e24", "strokeWidth": 4},
      "encoding": {
        "x": {"datum": {"year": 2013, "month": 3, "date": 9, "hours": 7, "utc": true}, "type": "temporal"}
      }
    },
    {
      "data": {"values": [{}]},
      "mark": {"type": "rule", "color": "#666", "strokeWidth": 1},
      "encoding": {
        "x": {"datum": {"year": 2013, "month": 2, "date": 25, "hours": 10, "minutes": 35, "utc": true}, "type": "temporal"}
      }
    }
  ],
  "resolve": {"scale": {"y": "independent"}}
}
